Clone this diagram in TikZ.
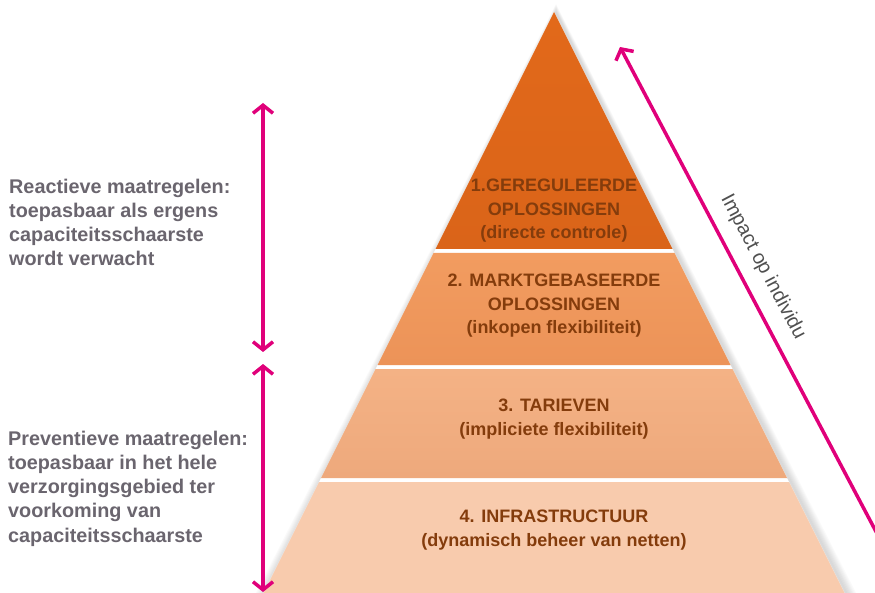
\documentclass[tikz,border=0pt]{standalone}
\usepackage{fontspec}
\setmainfont{Liberation Sans}
\usetikzlibrary{arrows.meta}
\definecolor{tierA}{HTML}{E2691A}
\definecolor{tierAb}{HTML}{DA6419}
\definecolor{tierB}{HTML}{F29C60}
\definecolor{tierBb}{HTML}{EC9358}
\definecolor{tierC}{HTML}{F4B285}
\definecolor{tierCb}{HTML}{EEA97C}
\definecolor{tierD}{HTML}{F8CBAD}
\definecolor{brownTxt}{HTML}{843C0C}
\definecolor{grayTxt}{HTML}{6A656E}
\definecolor{impTxt}{HTML}{505050}
\definecolor{magentaLn}{HTML}{E0007A}
\tikzset{
  tiertext/.style={text=brownTxt, align=center, inner sep=0pt,
    font=\fontsize{18}{23.5}\selectfont\bfseries},
  sidetext/.style={text=grayTxt, align=left, inner sep=0pt, anchor=base west,
    font=\fontsize{19.8}{24.2}\selectfont\bfseries},
  pinkarrow/.style={draw=magentaLn, line width=3.5pt,
    {Straight Barb[length=8pt,width=20pt]}-{Straight Barb[length=8pt,width=20pt]}},
  pinkone/.style={draw=magentaLn, line width=3.5pt,
    -{Straight Barb[length=8pt,width=20pt]}},
}
\begin{document}
\begin{tikzpicture}[x=1pt,y=-1pt]
\useasboundingbox (0,0) rectangle (875,593);
\clip (0,0) rectangle (875,593);
% soft shadow
\foreach \i in {1,...,8}{
  \fill[black, opacity=0.018] (554+2,12-\i) -- (844.5+2+1.2*\i,593) -- (263.5+2-1.2*\i,593) -- cycle;
}
\fill[white] (554,12) -- (844.5,593) -- (263.5,593) -- cycle;
% tiers
\shade[top color=tierA, bottom color=tierAb] (554,12) -- (672.5,249) -- (435.5,249) -- cycle;
\shade[top color=tierB, bottom color=tierBb] (433.5,253) -- (674.5,253) -- (730.5,365) -- (377.5,365) -- cycle;
\shade[top color=tierC, bottom color=tierCb] (375.5,369) -- (732.5,369) -- (787,478) -- (321,478) -- cycle;
\fill[tierD] (319,482) -- (789,482) -- (844.5,593) -- (263.5,593) -- cycle;
% tier texts
\node[tiertext] (t1) at (554,211) {1.GEREGULEERDE\\OPLOSSINGEN\\(directe controle)};
\node[tiertext] (t2) at (554,306) {2. MARKTGEBASEERDE\\OPLOSSINGEN\\(inkopen flexibiliteit)};
\node[tiertext] (t3) at (554,419) {3. TARIEVEN\\(impliciete flexibiliteit)};
\node[tiertext] (t4) at (554,530) {4. INFRASTRUCTUUR\\(dynamisch beheer van netten)};
% side texts (anchor is the baseline of the last line)
\node[sidetext] (reac) at (9,266) {Reactieve maatregelen:\\toepasbaar als ergens\\capaciteitsschaarste\\wordt verwacht};
\node[sidetext] (prev) at (8,542) {Preventieve maatregelen:\\toepasbaar in het hele\\verzorgingsgebied ter\\voorkoming van\\capaciteitsschaarste};
% arrows
\coordinate (rTop) at (263,103);
\coordinate (rBot) at (263,352);
\coordinate (pTop) at (263,364);
\coordinate (pBot) at (263,592);
\draw[pinkarrow] (rBot) -- (rTop);
\draw[pinkarrow] (pBot) -- (pTop);
\coordinate (impS) at (891,560);
\coordinate (impE) at (620,47);
\draw[pinkone] (impS) -- (impE);
\node[text=impTxt, rotate=-62.2, inner sep=0pt, font=\fontsize{20}{22}\selectfont] (imp) at (763,267) {Impact op individu};
\end{tikzpicture}
\end{document}
